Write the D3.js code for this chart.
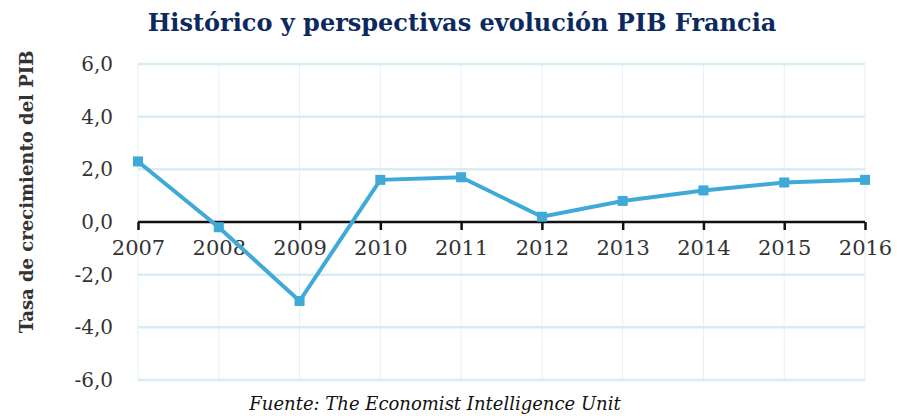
<!DOCTYPE html>
<html>
<head>
<meta charset="utf-8">
<script src="https://cdn.jsdelivr.net/npm/d3@7"></script>
<style>
  body { margin: 0; background: #fff; }
  svg text { font-family: "DejaVu Serif", "Liberation Serif", serif; }
</style>
</head>
<body>
<div id="chart"></div>
<script>
// data
var years = ["2007", "2008", "2009", "2010", "2011", "2012", "2013", "2014", "2015", "2016"];
var growth = [2.3, -0.2, -3.0, 1.6, 1.7, 0.2, 0.8, 1.2, 1.5, 1.6];
var yTicks = [-6, -4, -2, 0, 2, 4, 6];

var W = 897, H = 416;
var plotLeft = 138, plotRight = 865, plotTop = 64, plotBottom = 380;

var svg = d3.select("#chart")
    .append("svg")
    .attr("width", W)
    .attr("height", H);

var x = d3.scalePoint().domain(years).range([plotLeft, plotRight]);
var y = d3.scaleLinear().domain([-6, 6]).range([plotBottom, plotTop]);

// vertical grid
svg.append("g")
    .selectAll("line")
    .data(years)
    .enter().append("line")
    .attr("x1", function(d) { return x(d); })
    .attr("x2", function(d) { return x(d); })
    .attr("y1", plotTop)
    .attr("y2", plotBottom)
    .style("stroke", "#e3f1f8")
    .style("stroke-width", 1);

// horizontal grid
svg.append("g")
    .selectAll("line")
    .data(yTicks.filter(function(d) { return d !== 0; }))
    .enter().append("line")
    .attr("x1", plotLeft)
    .attr("x2", plotRight)
    .attr("y1", function(d) { return y(d); })
    .attr("y2", function(d) { return y(d); })
    .style("stroke", "#d8ecf5")
    .style("stroke-width", 2.5);

// y axis labels (comma decimals, plain hyphen)
var yAxis = d3.axisLeft(y)
    .tickValues(yTicks)
    .tickSize(0)
    .tickPadding(25)
    .tickFormat(function(d) { return d.toFixed(1).replace(".", ","); });
var gy = svg.append("g")
    .attr("transform", "translate(" + plotLeft + ",0)")
    .call(yAxis);
gy.select(".domain").remove();
gy.selectAll("text")
    .style("font-size", "20px")
    .style("fill", "#333");

// x axis at zero
var xAxis = d3.axisBottom(x).tickSize(8).tickPadding(10).tickSizeOuter(0);
var gx = svg.append("g")
    .attr("transform", "translate(0," + y(0) + ")")
    .call(xAxis);
gx.select(".domain")
    .attr("d", "M" + plotLeft + ",0H" + plotRight)
    .style("stroke", "#111")
    .style("stroke-width", 2.5);
gx.selectAll(".tick line")
    .style("stroke", "#111")
    .style("stroke-width", 2.5);
gx.selectAll("text")
    .style("font-size", "21px")
    .style("fill", "#333");

// line
var line = d3.line()
    .x(function(d, i) { return x(years[i]); })
    .y(function(d) { return y(d); });

svg.append("path")
    .datum(growth)
    .attr("d", line)
    .style("fill", "none")
    .style("stroke", "#3fa9d8")
    .style("stroke-width", 4);

svg.append("g")
    .selectAll("rect")
    .data(growth)
    .enter().append("rect")
    .attr("x", function(d, i) { return x(years[i]) - 5; })
    .attr("y", function(d) { return y(d) - 5; })
    .attr("width", 10)
    .attr("height", 10)
    .style("fill", "#3fa9d8");

// title
svg.append("text")
    .attr("x", 462)
    .attr("y", 31)
    .attr("text-anchor", "middle")
    .style("font-size", "24px")
    .style("font-weight", "bold")
    .style("fill", "#0d2a5f")
    .text("Histórico y perspectivas evolución PIB Francia");

// y title
svg.append("text")
    .attr("transform", "translate(33,192) rotate(-90)")
    .attr("text-anchor", "middle")
    .style("font-size", "18px")
    .style("font-weight", "bold")
    .style("fill", "#333")
    .text("Tasa de crecimiento del PIB");

// source
svg.append("text")
    .attr("x", 435)
    .attr("y", 410)
    .attr("text-anchor", "middle")
    .style("font-size", "18px")
    .style("font-style", "italic")
    .style("fill", "#111")
    .text("Fuente: The Economist Intelligence Unit");
</script>
</body>
</html>
